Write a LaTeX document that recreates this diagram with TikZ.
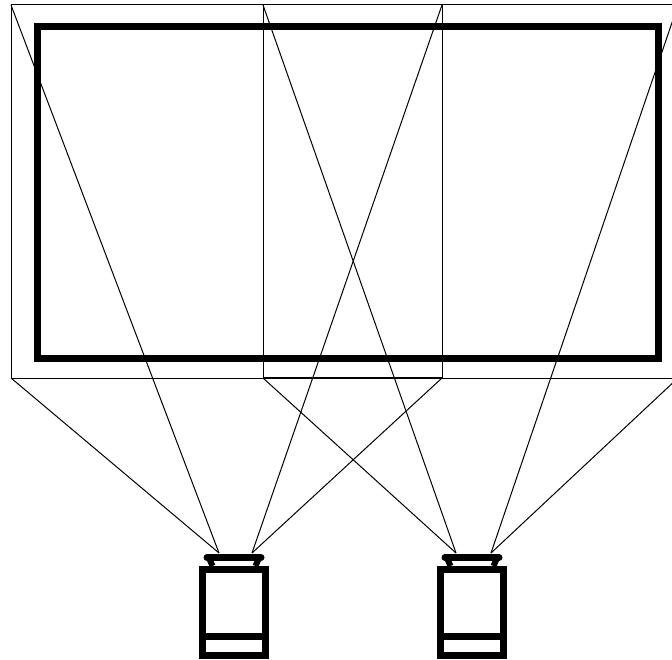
\documentclass[tikz,border=0pt]{standalone}
\usepackage{tikz}
\usetikzlibrary{positioning}

\begin{document}
\begin{tikzpicture}[
  x=1pt, y=-1pt,
  screen/.style={rectangle, draw, line width=7pt, inner sep=0pt, outer sep=0pt, minimum width=621pt, minimum height=331pt},
  beam/.style={rectangle, draw, line width=1pt, inner sep=0pt, outer sep=0pt, minimum height=373pt},
  body/.style={rectangle, draw, line width=7pt, inner sep=0pt, outer sep=0pt, minimum width=63pt, minimum height=86.5pt},
  ray/.style={line width=1pt},
  thickline/.style={line width=7pt},
  lensbar/.style={line width=7pt, line cap=round},
  lensleg/.style={line width=6pt}
]
  \path[use as bounding box, clip] (0,0) rectangle (672,660);
  \node[screen] (S) at (348,192.5) {};
  \node[beam, minimum width=431pt] (bL) at (226.5,191.5) {};
  \node[beam, minimum width=415pt] (bR) at (470.5,191.5) {};
  \draw[line width=2pt] (bR.south west) -- (bL.south east);
  % left projector
  \node[body] (pL) at (234,612.25) {};
  \coordinate (pLa) at (202.5,636.5);
  \coordinate (pLb) at (265.5,636.5);
  \coordinate (lLa) at (219,553);
  \coordinate (lLb) at (252,553);
  \draw[thickline] (pLa) -- (pLb);
  \draw[lensbar] (207,557.5) -- (261,557.5);
  \draw[lensleg] (209,558) -- (212.5,566);
  \draw[lensleg] (259,558) -- (255.5,566);
  % right projector
  \node[body] (pR) at (472,612.25) {};
  \coordinate (pRa) at (440.5,636.5);
  \coordinate (pRb) at (503.5,636.5);
  \coordinate (lRa) at (456,553);
  \coordinate (lRb) at (491,553);
  \draw[thickline] (pRa) -- (pRb);
  \draw[lensbar] (445,557.5) -- (499,557.5);
  \draw[lensleg] (447,558) -- (450.5,566);
  \draw[lensleg] (497,558) -- (493.5,566);
  % rays
  \draw[ray] (bL.north west) -- (lLa);
  \draw[ray] (bL.south west) -- (lLa);
  \draw[ray] (bL.north east) -- (lLb);
  \draw[ray] (bL.south east) -- (lLb);
  \draw[ray] (bR.north west) -- (lRa);
  \draw[ray] (bR.south west) -- (lRa);
  \draw[ray] (bR.north east) -- (lRb);
  \draw[ray] (bR.south east) -- (lRb);
\end{tikzpicture}
\end{document}
